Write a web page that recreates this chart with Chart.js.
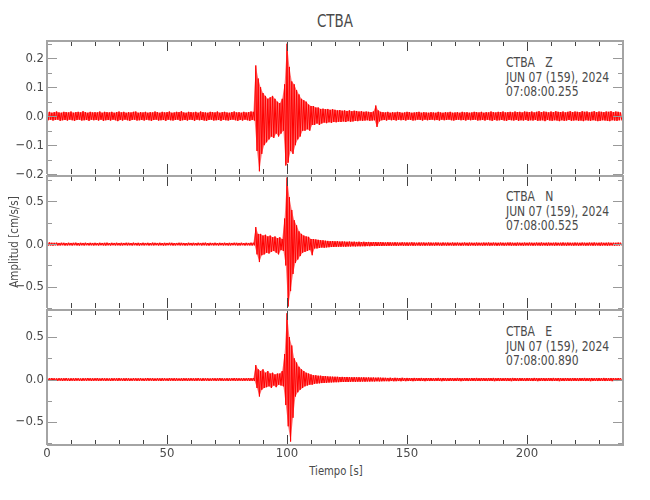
<!DOCTYPE html>
<html>
<head>
<meta charset="utf-8">
<script src="https://cdn.jsdelivr.net/npm/chart.js@4.4.1/dist/chart.umd.min.js"></script>
<style>
  body { margin: 0; background: #fff; }
  #page { position: relative; width: 650px; height: 500px; overflow: hidden;
          font-family: "Liberation Sans Narrow", "DejaVu Sans Condensed", sans-serif; color: #4a4a4a; }
  canvas { position: absolute; left: 0; }
  .txt { position: absolute; white-space: pre; }
  .info { position: absolute; left: 506px; font-size: 13.5px; line-height: 14.5px; white-space: pre;
          transform: scaleX(0.89); transform-origin: 0 0; }
</style>
</head>
<body>
<div id="page">
  <div class="txt" style="left:335px; top:11px; font-size:17px; transform:translateX(-50%) scaleX(0.88);">CTBA</div>
  <div class="txt" style="left:336px; top:463px; font-size:13px; transform:translateX(-50%) scaleX(0.86);">Tiempo [s]</div>

  <div class="info" style="top:55px">CTBA   Z
JUN 07 (159), 2024
07:08:00.255</div>
  <div class="info" style="top:189px">CTBA   N
JUN 07 (159), 2024
07:08:00.525</div>
  <div class="info" style="top:324px">CTBA   E
JUN 07 (159), 2024
07:08:00.890</div>

  <canvas id="cz" width="650" height="155" style="top:30px"></canvas>
  <canvas id="cn" width="650" height="154" style="top:165px"></canvas>
  <canvas id="ce" width="650" height="176" style="top:299px"></canvas>
</div>

<script>
// one max and one min per second (cm/s/s)
const sampleStep = 1;

const zHigh = [
  .013,.015,.012,.014,.016,.013,.012,.015,.014,.013,.016,.012,.014,.015,.013,.017,.014,.012,.015,.013,
  .014,.013,.016,.012,.015,.014,.013,.015,.012,.014,.016,.013,.015,.012,.014,.013,.015,.016,.012,.014,
  .013,.015,.012,.014,.013,.016,.014,.012,.015,.013,.014,.016,.012,.013,.015,.014,.017,.013,.012,.015,
  .014,.013,.015,.012,.016,.014,.013,.012,.015,.014,.013,.016,.012,.014,.015,.013,.012,.014,.016,.013,
  .014,.012,.015,.013,.014,.016,.015,.175,.13,.10,.08,.07,.06,.065,.07,.06,.05,.045,.06,.11,
  .25,.17,.12,.11,.09,.075,.06,.055,.05,.04,.035,.035,.03,.03,.025,.026,.024,.025,.022,.024,
  .022,.02,.021,.019,.02,.018,.02,.017,.019,.018,.016,.017,.015,.016,.015,.014,.016,.037,.02,.015,
  .014,.013,.015,.012,.014,.013,.015,.014,.012,.013,.015,.014,.012,.013,.014,.015,.012,.014,.013,.012,
  .014,.013,.012,.015,.013,.012,.014,.013,.015,.012,.013,.014,.012,.015,.013,.014,.012,.013,.015,.014,
  .013,.015,.012,.014,.013,.016,.014,.013,.015,.014,.016,.013,.014,.015,.013,.016,.014,.015,.013,.016,
  .015,.014,.016,.013,.015,.017,.014,.016,.015,.013,.016,.014,.017,.015,.014,.016,.013,.015,.017,.014,
  .016,.015,.014,.017,.015,.016,.013,.015,.017,.014,.016,.015,.014,.016,.015,.017,.014,.016,.015,.013
];
const zLow = [
  -.014,-.012,-.015,-.013,-.012,-.016,-.014,-.013,-.015,-.012,-.014,-.016,-.013,-.012,-.015,-.014,-.013,-.016,-.012,-.014,
  -.013,-.015,-.012,-.016,-.014,-.013,-.015,-.012,-.014,-.017,-.013,-.015,-.012,-.014,-.016,-.013,-.012,-.015,-.014,-.013,
  -.015,-.012,-.014,-.016,-.013,-.012,-.015,-.014,-.013,-.016,-.012,-.014,-.015,-.013,-.012,-.016,-.014,-.013,-.015,-.012,
  -.013,-.016,-.012,-.014,-.013,-.015,-.016,-.013,-.012,-.015,-.014,-.013,-.016,-.012,-.014,-.015,-.013,-.012,-.014,-.016,
  -.013,-.015,-.012,-.014,-.016,-.013,-.015,-.12,-.19,-.13,-.10,-.09,-.08,-.07,-.075,-.06,-.07,-.06,-.05,-.17,
  -.16,-.12,-.13,-.10,-.08,-.07,-.05,-.05,-.045,-.05,-.03,-.03,-.025,-.03,-.025,-.022,-.024,-.021,-.023,-.02,
  -.021,-.019,-.02,-.018,-.02,-.017,-.019,-.018,-.016,-.017,-.015,-.016,-.015,-.014,-.016,-.015,-.014,-.037,-.018,-.014,
  -.013,-.015,-.012,-.014,-.013,-.015,-.012,-.014,-.013,-.015,-.012,-.013,-.015,-.014,-.012,-.013,-.015,-.012,-.014,-.013,
  -.012,-.014,-.013,-.015,-.012,-.014,-.013,-.012,-.014,-.015,-.013,-.012,-.014,-.013,-.015,-.012,-.014,-.013,-.012,-.015,
  -.014,-.013,-.015,-.012,-.014,-.016,-.013,-.015,-.014,-.013,-.015,-.016,-.013,-.014,-.015,-.013,-.016,-.014,-.015,-.013,
  -.016,-.014,-.015,-.013,-.016,-.015,-.014,-.017,-.013,-.015,-.016,-.014,-.015,-.017,-.014,-.016,-.015,-.013,-.016,-.015,
  -.014,-.016,-.015,-.017,-.014,-.015,-.016,-.014,-.015,-.017,-.016,-.014,-.015,-.016,-.017,-.014,-.015,-.016,-.014,-.015
];

const nHigh = [
  .018,.02,.016,.015,.017,.014,.016,.015,.013,.016,.014,.015,.017,.013,.015,.014,.016,.013,.015,.014,
  .015,.013,.016,.014,.015,.017,.013,.015,.014,.016,.013,.015,.014,.016,.015,.013,.017,.014,.015,.013,
  .016,.014,.015,.013,.017,.015,.014,.016,.013,.015,.014,.016,.015,.013,.014,.016,.015,.014,.013,.016,
  .014,.015,.013,.016,.014,.015,.017,.013,.015,.014,.016,.013,.015,.014,.016,.013,.015,.014,.016,.015,
  .014,.016,.013,.015,.014,.017,.016,.2,.12,.12,.10,.11,.09,.10,.08,.09,.07,.08,.06,.3,
  .78,.55,.4,.28,.22,.15,.12,.10,.09,.085,.06,.06,.055,.05,.045,.045,.04,.038,.035,.036,
  .033,.034,.03,.032,.03,.028,.03,.027,.029,.026,.028,.025,.027,.024,.026,.023,.025,.024,.022,.024,
  .022,.02,.023,.021,.019,.022,.02,.018,.021,.019,.02,.018,.021,.019,.017,.02,.018,.019,.017,.02,
  .018,.017,.019,.018,.016,.019,.017,.018,.016,.019,.017,.018,.016,.017,.019,.016,.018,.017,.016,.018,
  .017,.016,.018,.017,.019,.016,.018,.017,.016,.018,.017,.016,.018,.019,.017,.016,.018,.017,.016,.018,
  .016,.018,.017,.016,.018,.017,.019,.016,.017,.018,.016,.017,.018,.016,.017,.019,.016,.018,.017,.016,
  .018,.017,.016,.018,.017,.016,.018,.017,.019,.016,.017,.018,.016,.017,.018,.016,.017,.016,.018,.017
];
const nLow = [
  -.017,-.015,-.018,-.014,-.016,-.015,-.013,-.016,-.015,-.014,-.016,-.013,-.015,-.017,-.014,-.016,-.013,-.015,-.014,-.016,
  -.014,-.016,-.013,-.015,-.017,-.014,-.016,-.013,-.015,-.014,-.016,-.015,-.013,-.015,-.014,-.016,-.013,-.015,-.017,-.014,
  -.015,-.013,-.016,-.014,-.015,-.013,-.016,-.014,-.017,-.015,-.013,-.014,-.016,-.015,-.013,-.015,-.014,-.016,-.015,-.013,
  -.016,-.014,-.015,-.013,-.016,-.014,-.015,-.017,-.013,-.015,-.014,-.016,-.013,-.015,-.014,-.016,-.015,-.013,-.014,-.016,
  -.015,-.013,-.016,-.014,-.015,-.016,-.014,-.12,-.21,-.13,-.12,-.10,-.11,-.09,-.08,-.10,-.12,-.07,-.08,-.25,
  -.73,-.55,-.35,-.22,-.18,-.14,-.10,-.09,-.08,-.07,-.13,-.05,-.05,-.045,-.04,-.042,-.038,-.036,-.034,-.033,
  -.032,-.03,-.031,-.029,-.03,-.027,-.028,-.026,-.027,-.025,-.026,-.024,-.025,-.023,-.024,-.022,-.023,-.022,-.021,-.022,
  -.02,-.021,-.019,-.02,-.018,-.02,-.019,-.017,-.019,-.018,-.02,-.017,-.019,-.018,-.016,-.019,-.017,-.018,-.016,-.018,
  -.017,-.018,-.016,-.017,-.019,-.016,-.018,-.017,-.016,-.018,-.017,-.016,-.018,-.017,-.016,-.019,-.017,-.016,-.018,-.017,
  -.016,-.018,-.017,-.016,-.018,-.017,-.016,-.019,-.017,-.016,-.018,-.017,-.016,-.018,-.017,-.019,-.016,-.017,-.018,-.016,
  -.017,-.016,-.018,-.017,-.016,-.018,-.017,-.016,-.019,-.017,-.016,-.018,-.017,-.016,-.018,-.017,-.019,-.016,-.017,-.018,
  -.016,-.018,-.017,-.016,-.018,-.017,-.016,-.018,-.017,-.016,-.019,-.017,-.016,-.018,-.017,-.016,-.018,-.017,-.016,-.017
];

const eHigh = [
  .016,.014,.017,.015,.013,.016,.014,.015,.017,.013,.015,.014,.016,.015,.013,.016,.014,.017,.015,.014,
  .015,.017,.013,.016,.014,.015,.013,.016,.015,.014,.017,.013,.015,.016,.014,.013,.016,.015,.014,.016,
  .013,.015,.017,.014,.016,.013,.015,.014,.016,.015,.013,.017,.014,.016,.015,.013,.014,.016,.015,.014,
  .016,.014,.015,.017,.013,.016,.014,.015,.013,.016,.015,.014,.017,.015,.013,.016,.014,.015,.017,.016,
  .015,.014,.016,.015,.017,.016,.018,.17,.12,.10,.12,.08,.10,.07,.08,.06,.07,.07,.10,.3,
  .78,.5,.4,.25,.2,.15,.12,.10,.08,.07,.06,.05,.05,.045,.045,.04,.04,.037,.035,.034,
  .033,.032,.03,.031,.029,.03,.028,.027,.028,.026,.027,.025,.026,.024,.025,.023,.024,.022,.023,.022,
  .021,.02,.019,.021,.018,.02,.019,.018,.02,.017,.019,.018,.017,.019,.018,.017,.019,.016,.018,.017,
  .018,.016,.017,.019,.016,.018,.017,.016,.018,.017,.016,.019,.017,.016,.018,.017,.016,.018,.017,.019,
  .016,.018,.017,.016,.018,.017,.019,.016,.018,.017,.016,.018,.017,.016,.019,.017,.016,.018,.017,.016,
  .018,.017,.016,.019,.017,.016,.018,.017,.016,.018,.017,.019,.016,.018,.017,.016,.018,.017,.016,.018,
  .017,.016,.018,.017,.019,.016,.017,.018,.016,.017,.018,.016,.019,.017,.016,.018,.017,.016,.018,.017
];
const eLow = [
  -.015,-.017,-.014,-.016,-.015,-.013,-.016,-.014,-.015,-.017,-.014,-.016,-.013,-.015,-.016,-.014,-.015,-.013,-.016,-.015,
  -.014,-.016,-.015,-.013,-.016,-.014,-.017,-.015,-.013,-.016,-.014,-.015,-.017,-.014,-.016,-.015,-.013,-.016,-.015,-.014,
  -.016,-.014,-.015,-.013,-.016,-.015,-.014,-.017,-.015,-.013,-.016,-.014,-.015,-.016,-.014,-.015,-.017,-.013,-.016,-.015,
  -.014,-.016,-.015,-.013,-.017,-.015,-.014,-.016,-.015,-.013,-.016,-.014,-.015,-.016,-.014,-.017,-.015,-.013,-.016,-.015,
  -.014,-.016,-.015,-.014,-.016,-.015,-.017,-.10,-.20,-.12,-.10,-.09,-.08,-.10,-.07,-.09,-.06,-.07,-.08,-.3,
  -.55,-.73,-.45,-.2,-.15,-.12,-.10,-.08,-.07,-.06,-.06,-.05,-.048,-.045,-.042,-.04,-.038,-.036,-.034,-.033,
  -.032,-.031,-.03,-.029,-.028,-.029,-.027,-.026,-.027,-.025,-.026,-.024,-.025,-.023,-.024,-.022,-.023,-.021,-.022,-.021,
  -.02,-.019,-.021,-.018,-.02,-.019,-.018,-.02,-.017,-.019,-.018,-.017,-.019,-.018,-.016,-.018,-.017,-.019,-.016,-.018,
  -.017,-.018,-.016,-.017,-.019,-.016,-.018,-.017,-.016,-.018,-.017,-.016,-.019,-.017,-.016,-.018,-.017,-.016,-.018,-.017,
  -.018,-.016,-.017,-.018,-.016,-.017,-.019,-.016,-.018,-.017,-.016,-.018,-.017,-.019,-.016,-.017,-.018,-.016,-.017,-.018,
  -.016,-.017,-.018,-.016,-.019,-.017,-.016,-.018,-.017,-.016,-.018,-.017,-.016,-.019,-.017,-.018,-.016,-.017,-.018,-.016,
  -.017,-.018,-.016,-.017,-.018,-.016,-.019,-.017,-.016,-.018,-.017,-.016,-.018,-.017,-.016,-.019,-.017,-.018,-.016,-.017
];

const timeTicks = [0, 50, 100, 150, 200];
const timeMinorTicks = [0, 10, 20, 30, 40, 50, 60, 70, 80, 90, 100, 110, 120, 130, 140, 150, 160, 170, 180, 190, 200, 210, 220, 230, 240];
const zTicks = [-0.2, -0.1, 0, 0.1, 0.2];
const zMinorTicks = [-0.15, -0.05, 0.05, 0.15, 0.25];
const neTicks = [-0.5, 0, 0.5];
const neMinorTicks = [-0.75, -0.25, 0.25, 0.75];

const fontFamily = '"Liberation Sans Narrow", "DejaVu Sans Condensed", sans-serif';

function highPoints(high) {
  return high.map((h, i) => ({ x: i * sampleStep, y: h }));
}
function lowPoints(low) {
  return low.map((l, i) => ({ x: i * sampleStep + sampleStep / 2, y: l }));
}
function zigzag(high, low) {
  const pts = [];
  high.forEach((h, i) => {
    pts.push({ x: i * sampleStep, y: h });
    pts.push({ x: i * sampleStep + sampleStep / 2, y: low[i] });
  });
  return pts;
}

function tickLabel(v) {
  return (v < 0 ? '\u2212' : '') + Math.abs(v).toFixed(1);
}

// IDL-style box with inward ticks; the bottom edge is left to the panel below
const boxTicks = {
  id: 'boxTicks',
  afterDraw(chart, args, opts) {
    const { ctx, chartArea: a, scales } = chart;
    const x = scales.x, y = scales.y;
    const L = Math.round(a.left), R = Math.round(a.right), T = Math.round(a.top), B = Math.round(a.bottom);
    ctx.save();
    ctx.lineWidth = 1;
    ctx.strokeStyle = '#444';
    ctx.beginPath();
    timeMinorTicks.forEach(v => {
      const px = Math.round(x.getPixelForValue(v)) + 0.5;
      const len = timeTicks.includes(v) ? 10 : 5;
      ctx.moveTo(px, T); ctx.lineTo(px, T + len);
      ctx.moveTo(px, B); ctx.lineTo(px, B - len);
    });
    ctx.stroke();
    ctx.strokeStyle = '#999';
    ctx.beginPath();
    opts.major.concat(opts.minor).forEach(v => {
      const py = Math.round(y.getPixelForValue(v)) + 0.5;
      const len = opts.major.includes(v) ? 10 : 5;
      ctx.moveTo(L, py); ctx.lineTo(L + len, py);
      ctx.moveTo(R, py); ctx.lineTo(R - len, py);
    });
    ctx.stroke();
    ctx.lineWidth = 2;
    ctx.strokeStyle = '#a4a4a4';
    ctx.beginPath();
    ctx.moveTo(L, B); ctx.lineTo(L, T); ctx.lineTo(R, T); ctx.lineTo(R, B);
    if (opts.closeBottom) { ctx.lineTo(L, B); }
    ctx.stroke();
    ctx.restore();
  }
};

function makePanel(id, high, low, yMin, yMax, major, minor, bottomAxis, yTitle) {
  new Chart(document.getElementById(id), {
    type: 'line',
    data: {
      datasets: [
        { data: highPoints(high), borderWidth: 0, pointRadius: 0, fill: '+1', backgroundColor: 'rgba(255,0,0,0.55)' },
        { data: lowPoints(low), borderWidth: 0, pointRadius: 0, fill: false },
        { data: zigzag(high, low), borderColor: '#ff0000', borderWidth: 1, pointRadius: 0, tension: 0, fill: false }
      ]
    },
    options: {
      responsive: false,
      animation: false,
      devicePixelRatio: 1,
      events: [],
      layout: { padding: { top: 10, right: 27, bottom: 0, left: 0 }, autoPadding: false },
      plugins: {
        legend: { display: false },
        tooltip: { enabled: false },
        boxTicks: { major: major, minor: minor, closeBottom: bottomAxis }
      },
      scales: {
        x: {
          type: 'linear',
          min: 0,
          max: 240,
          grid: { display: false, drawTicks: false },
          border: { display: false },
          afterBuildTicks: s => { s.ticks = timeTicks.map(v => ({ value: v })); },
          afterFit: s => { s.height = bottomAxis ? 30 : 10; },
          ticks: {
            display: bottomAxis,
            padding: 1,
            color: '#4a4a4a',
            font: { family: fontFamily, size: 13 }
          }
        },
        y: {
          min: yMin,
          max: yMax,
          grid: { display: false, drawTicks: false },
          border: { display: false },
          afterBuildTicks: s => { s.ticks = major.map(v => ({ value: v })); },
          afterFit: s => { s.width = 47; },
          title: {
            display: !!yTitle,
            text: yTitle || '',
            color: '#4a4a4a',
            font: { family: fontFamily, size: 11.5 },
            padding: { top: 8, bottom: 0 }
          },
          ticks: {
            padding: 3,
            autoSkip: false,
            color: '#4a4a4a',
            font: { family: fontFamily, size: 13 },
            callback: tickLabel
          }
        }
      }
    },
    plugins: [boxTicks]
  });
}

makePanel('cz', zHigh, zLow, -0.2, 0.26, zTicks, zMinorTicks, false, '');
makePanel('cn', nHigh, nLow, -0.75, 0.80, neTicks, neMinorTicks, false, 'Amplitud [cm/s/s]');
makePanel('ce', eHigh, eLow, -0.77, 0.82, neTicks, neMinorTicks, true, '');
</script>
</body>
</html>
